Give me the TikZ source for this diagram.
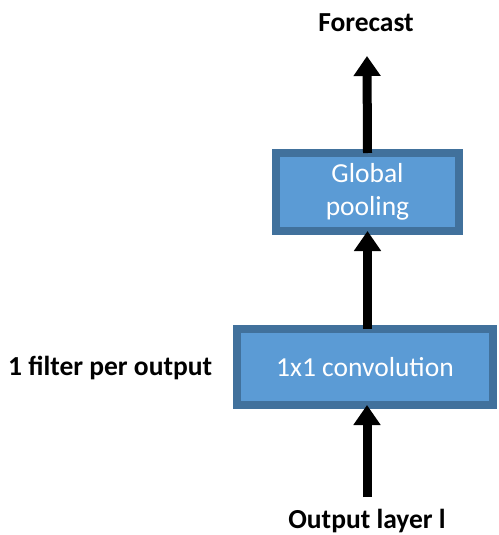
\documentclass[tikz,border=0pt]{standalone}
\usepackage{fontspec}
\setmainfont{Carlito}
\usetikzlibrary{arrows.meta}
\definecolor{boxfill}{HTML}{5B9BD5}
\definecolor{boxedge}{HTML}{41719C}
\begin{document}
\begin{tikzpicture}[x=1pt,y=-1pt,
  block/.style={draw=boxedge,fill=boxfill,line width=8pt,text=white,
    font=\fontsize{27.5}{33}\selectfont,align=center,inner sep=0pt},
  lbl/.style={font=\fontsize{27.5}{33}\selectfont\bfseries,inner sep=0pt},
  flow/.style={line width=9pt,-{Triangle[width=26pt,length=20pt]}}]
\useasboundingbox (0,0) rectangle (498,535);
% processing blocks
\node[block,minimum width=183pt,minimum height=78pt] (pool) at (367.5,192) {Global\\pooling};
\node[block,minimum width=256pt,minimum height=76pt] (conv) at (365,367) {1x1 convolution};
% labels
\node[lbl] (fc) at (366,23) {Forecast};
\node[lbl] (out) at (367,521) {Output layer l};
\node[lbl,anchor=west] (filt) at (8,368) {1 filter per output};
% arrows
\coordinate (topend) at (367,56);
\coordinate (botstart) at (367,497);
\draw[flow] ([yshift=-4pt]pool.north) -- (topend);
\draw[flow] ([yshift=-4pt]conv.north -| pool.south) -- ([yshift=4pt]pool.south);
\draw[flow] (botstart) -- ([yshift=4pt]conv.south -| botstart);
\end{tikzpicture}
\end{document}
